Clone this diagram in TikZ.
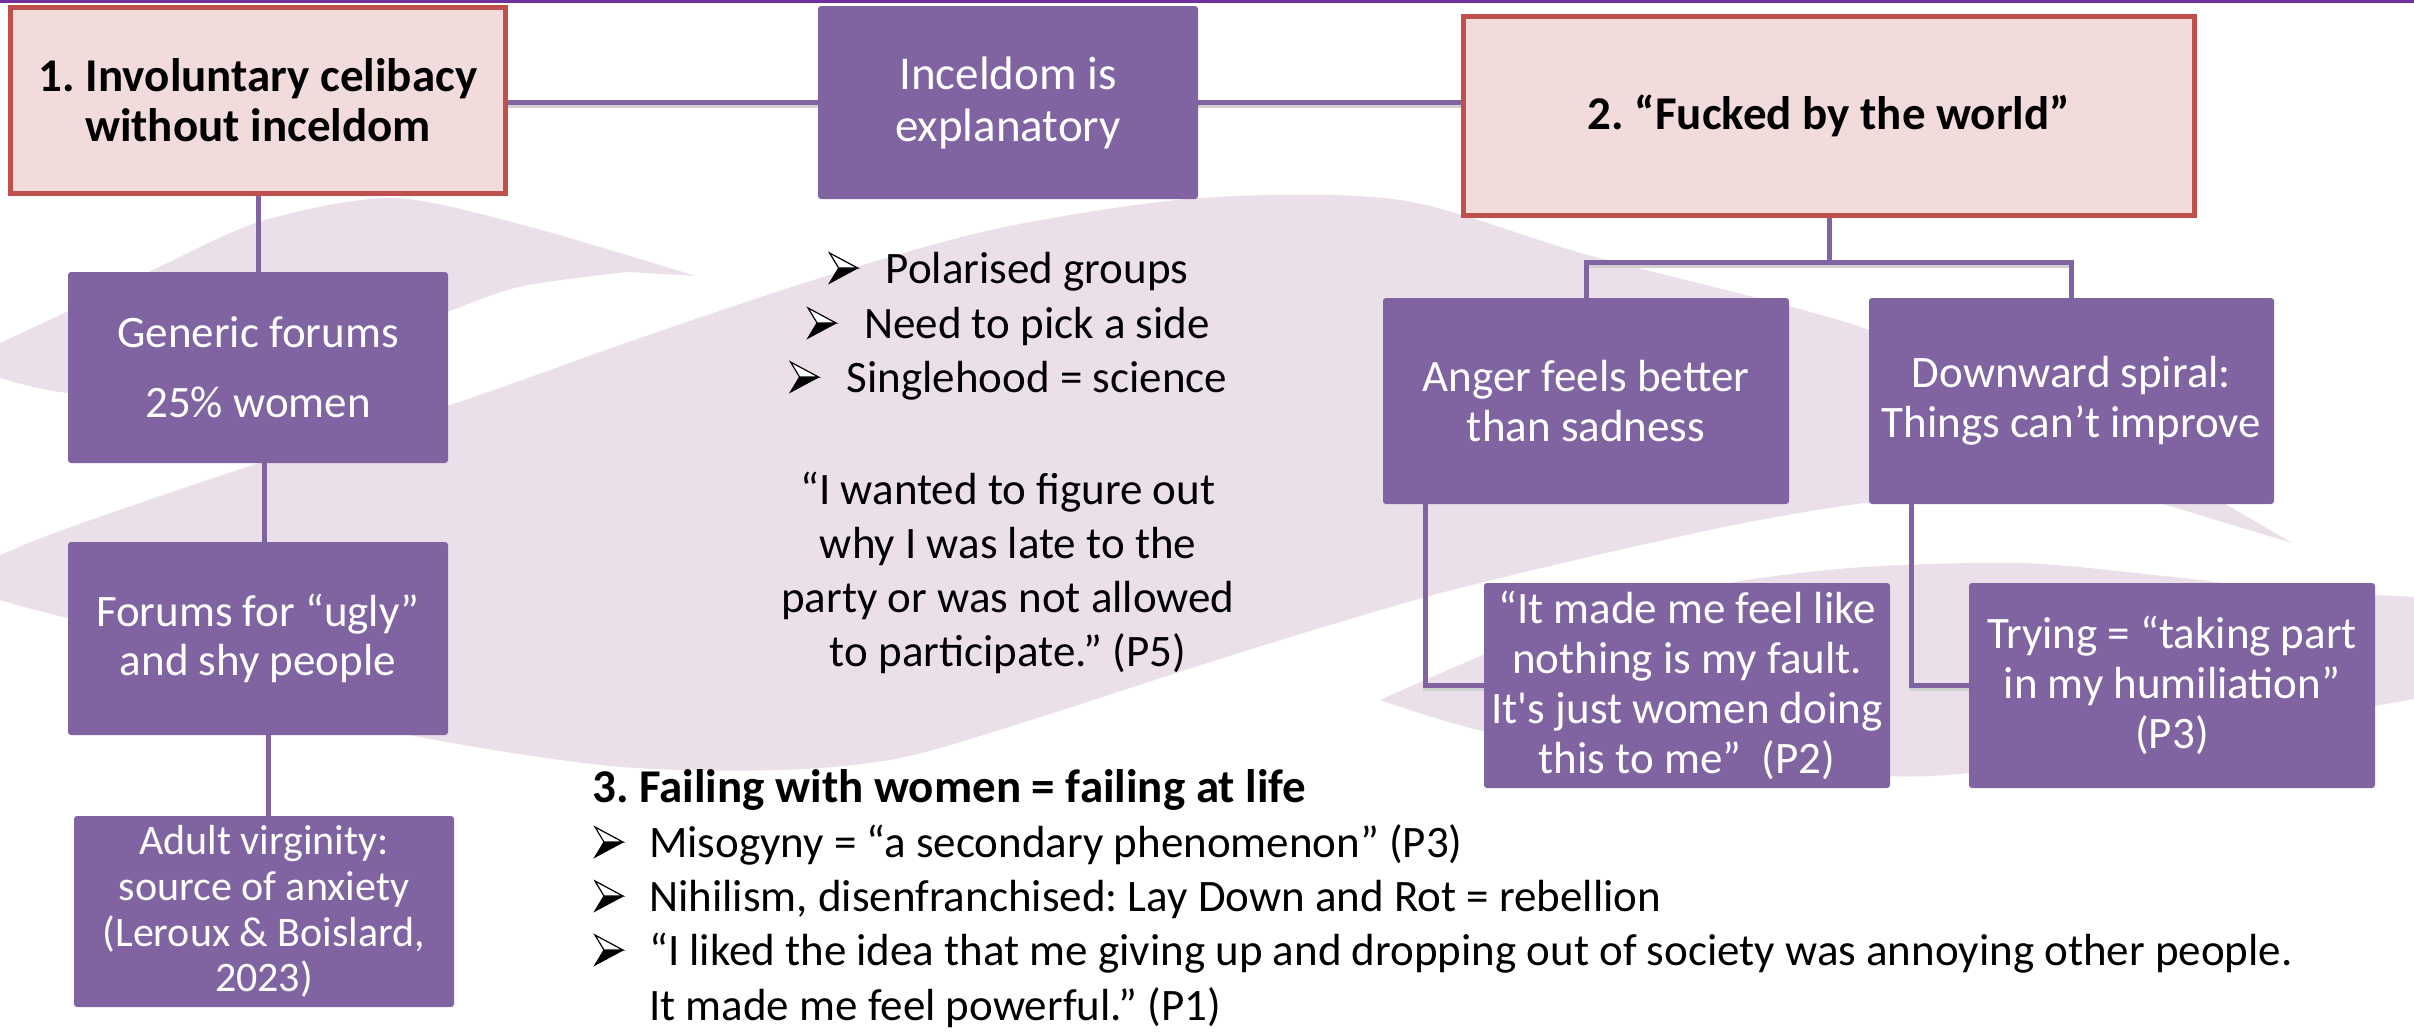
\documentclass[tikz,border=0pt]{standalone}
\usepackage{fontspec}
\setmainfont{Carlito}
\usetikzlibrary{calc}
\pgfdeclarelayer{bg}
\pgfsetlayers{bg,main}
\definecolor{boxpurple}{HTML}{8064A2}
\definecolor{pinkfill}{HTML}{F2DCDB}
\definecolor{redline}{HTML}{C0504D}
\definecolor{lav}{HTML}{EBE0EA}
\definecolor{topline}{HTML}{7030A0}
\frenchspacing
\begin{document}
\begin{tikzpicture}[x=1pt,y=-1pt,
  pbox/.style={fill=boxpurple, text=white, align=center, inner sep=0pt, rounded corners=3pt, font=\fontsize{45}{50}\selectfont},
  rbox/.style={fill=pinkfill, draw=redline, line width=5pt, align=center, inner sep=0pt, font=\bfseries\fontsize{47}{50}\selectfont},
  conn/.style={draw=boxpurple, line width=5pt, preaction={draw=black!18, line width=5pt, transform canvas={yshift=-3pt}}},
  txt/.style={inner sep=0pt, font=\fontsize{45}{54}\selectfont},
  bul/.pic={
    \fill[black] (9,-15) -- (28,-15) -- (0,0) -- cycle;
    \draw[black, line width=1.2pt, fill=white, line join=miter] (0,-30) -- (28,-15) -- (9,-15) -- cycle;
    \draw[black, line width=1.2pt, line join=miter] (9,-15) -- (0,0) -- (28,-15);
  }
]
\useasboundingbox (0,0) rectangle (2414,1031);

% boxes
\node[rbox, minimum width=495pt, minimum height=186pt] (inv) at (258,100.5) {1. Involuntary celibacy\\without inceldom};
\node[pbox, minimum width=380pt, minimum height=193pt, font=\fontsize{47}{52}\selectfont] (expl) at (1008,102.5) {Inceldom is\\explanatory};
\node[rbox, minimum width=731pt, minimum height=199pt] (world) at (1829,116) {2. “Fucked by the world”};
\node[pbox, minimum width=380pt, minimum height=191pt] (gen) at (258,367.5) {Generic forums\\[20pt]25\% women};
\node[pbox, minimum width=380pt, minimum height=193pt, font=\fontsize{45}{49}\selectfont] (ugly) at (258,638.5) {Forums for “ugly”\\and shy people};
\node[pbox, minimum width=380pt, minimum height=191pt, font=\fontsize{42}{45.7}\selectfont] (adult) at (264,911.5) {Adult virginity:\\source of anxiety\\(Leroux \& Boislard,\\2023)};
\node[pbox, minimum width=406pt, minimum height=206pt] (anger) at (1586,401) {Anger feels better\\than sadness};
\node[pbox, minimum width=405pt, minimum height=206pt] (spiral) at (2071.5,401) {Downward spiral:\\Things can’t improve};
\node[pbox, minimum width=406pt, minimum height=205pt] (fault) at (1687,685.5) {“It made me feel like\\nothing is my fault.\\It\textquotesingle s just women doing\\this to me”\ \ (P2)};
\node[pbox, minimum width=406pt, minimum height=205pt] (trying) at (2172,685.5) {Trying = “taking part\\in my humiliation”\\(P3)};

% free text
\node[txt, anchor=base] (b1) at (1009,283) {\hspace*{56pt}Polarised groups};
\node[txt, anchor=base] (b2) at (1009,338) {\hspace*{56pt}Need to pick a side};
\node[txt, anchor=base] (b3) at (1009,392) {\hspace*{56pt}Singlehood = science};
\node[txt, align=center] (quote) at (1008,573) {“I wanted to figure out\\why I was late to the\\party or was not allowed\\to participate.” (P5)};
\node[txt, anchor=base west, font=\bfseries\fontsize{47}{54}\selectfont] (fail) at (592,802) {3. Failing with women = failing at life};
\node[txt, anchor=base west] (m1) at (595,857) {\hspace*{54pt}Misogyny = “a secondary phenomenon” (P3)};
\node[txt, anchor=base west] (m2) at (595,911) {\hspace*{54pt}Nihilism, disenfranchised: Lay Down and Rot = rebellion};
\node[txt, anchor=base west] (m3) at (595,965) {\hspace*{54pt}“I liked the idea that me giving up and dropping out of society was annoying other people.};
\node[txt, anchor=base west] (m4) at (649,1020) {It made me feel powerful.” (P1)};

\foreach \b in {b1,b2,b3,m1,m2,m3} \pic at (\b.base west) {bul};

\coordinate (fork) at ($(world.south)+(0,44)$);

\begin{pgfonlayer}{bg}
  \begin{scope}
    \clip (0,0) rectangle (2414,1031);
    \fill[lav] plot[smooth] coordinates {(-40,362) (0,343) (60,315) (157,268) (262,221) (392,198) (523,225) (696,276)}
      -- plot[smooth] coordinates {(628,272) (523,286) (450,311) (300,370) (150,398) (60,392) (0,378) (-40,362)} -- cycle;
    \fill[lav] plot[smooth] coordinates {(-60,580) (0,555) (68,528) (250,466) (450,405) (640,338) (820,278) (1000,228) (1200,198) (1400,200) (1588,255) (1858,326) (2000,392) (2150,462) (2292,543)}
      -- plot[smooth] coordinates {(2150,500) (2000,490) (1850,505) (1700,532) (1452,590) (1242,652) (1031,720) (900,758) (780,770) (610,766) (400,733) (250,688) (128,628) (68,618) (0,600) (-60,580)} -- cycle;
    \fill[lav] plot[smooth] coordinates {(1380,700) (1550,628) (1700,588) (1850,568) (2019,563) (2155,575) (2292,590) (2440,598)}
      -- plot[smooth] coordinates {(2440,695) (2380,705) (2200,740) (1930,776) (1700,762) (1500,735) (1380,700)} -- cycle;
  \end{scope}
  \draw[topline, line width=3pt] (0,1.5) -- (2414,1.5);
  \draw[conn] (expl.west -| inv.east) -- (expl.west);
  \draw[conn] (expl.east) -- (expl.east -| world.west);
  \draw[conn] (inv.south) -- (gen.north);
  \draw[conn] ([xshift=6pt]gen.south) -- ([xshift=6pt]gen.south |- ugly.north);
  \draw[conn] ([xshift=10pt]ugly.south) -- ([xshift=10pt]ugly.south |- adult.north);
  \draw[conn] (world.south) -- (fork);
  \draw[conn] (anger.north) |- (fork) -| (spiral.north);
  \draw[conn] ([xshift=43pt]anger.south west) |- (fault.west);
  \draw[conn] ([xshift=43pt]spiral.south west) |- (trying.west);
\end{pgfonlayer}
\end{tikzpicture}
\end{document}
